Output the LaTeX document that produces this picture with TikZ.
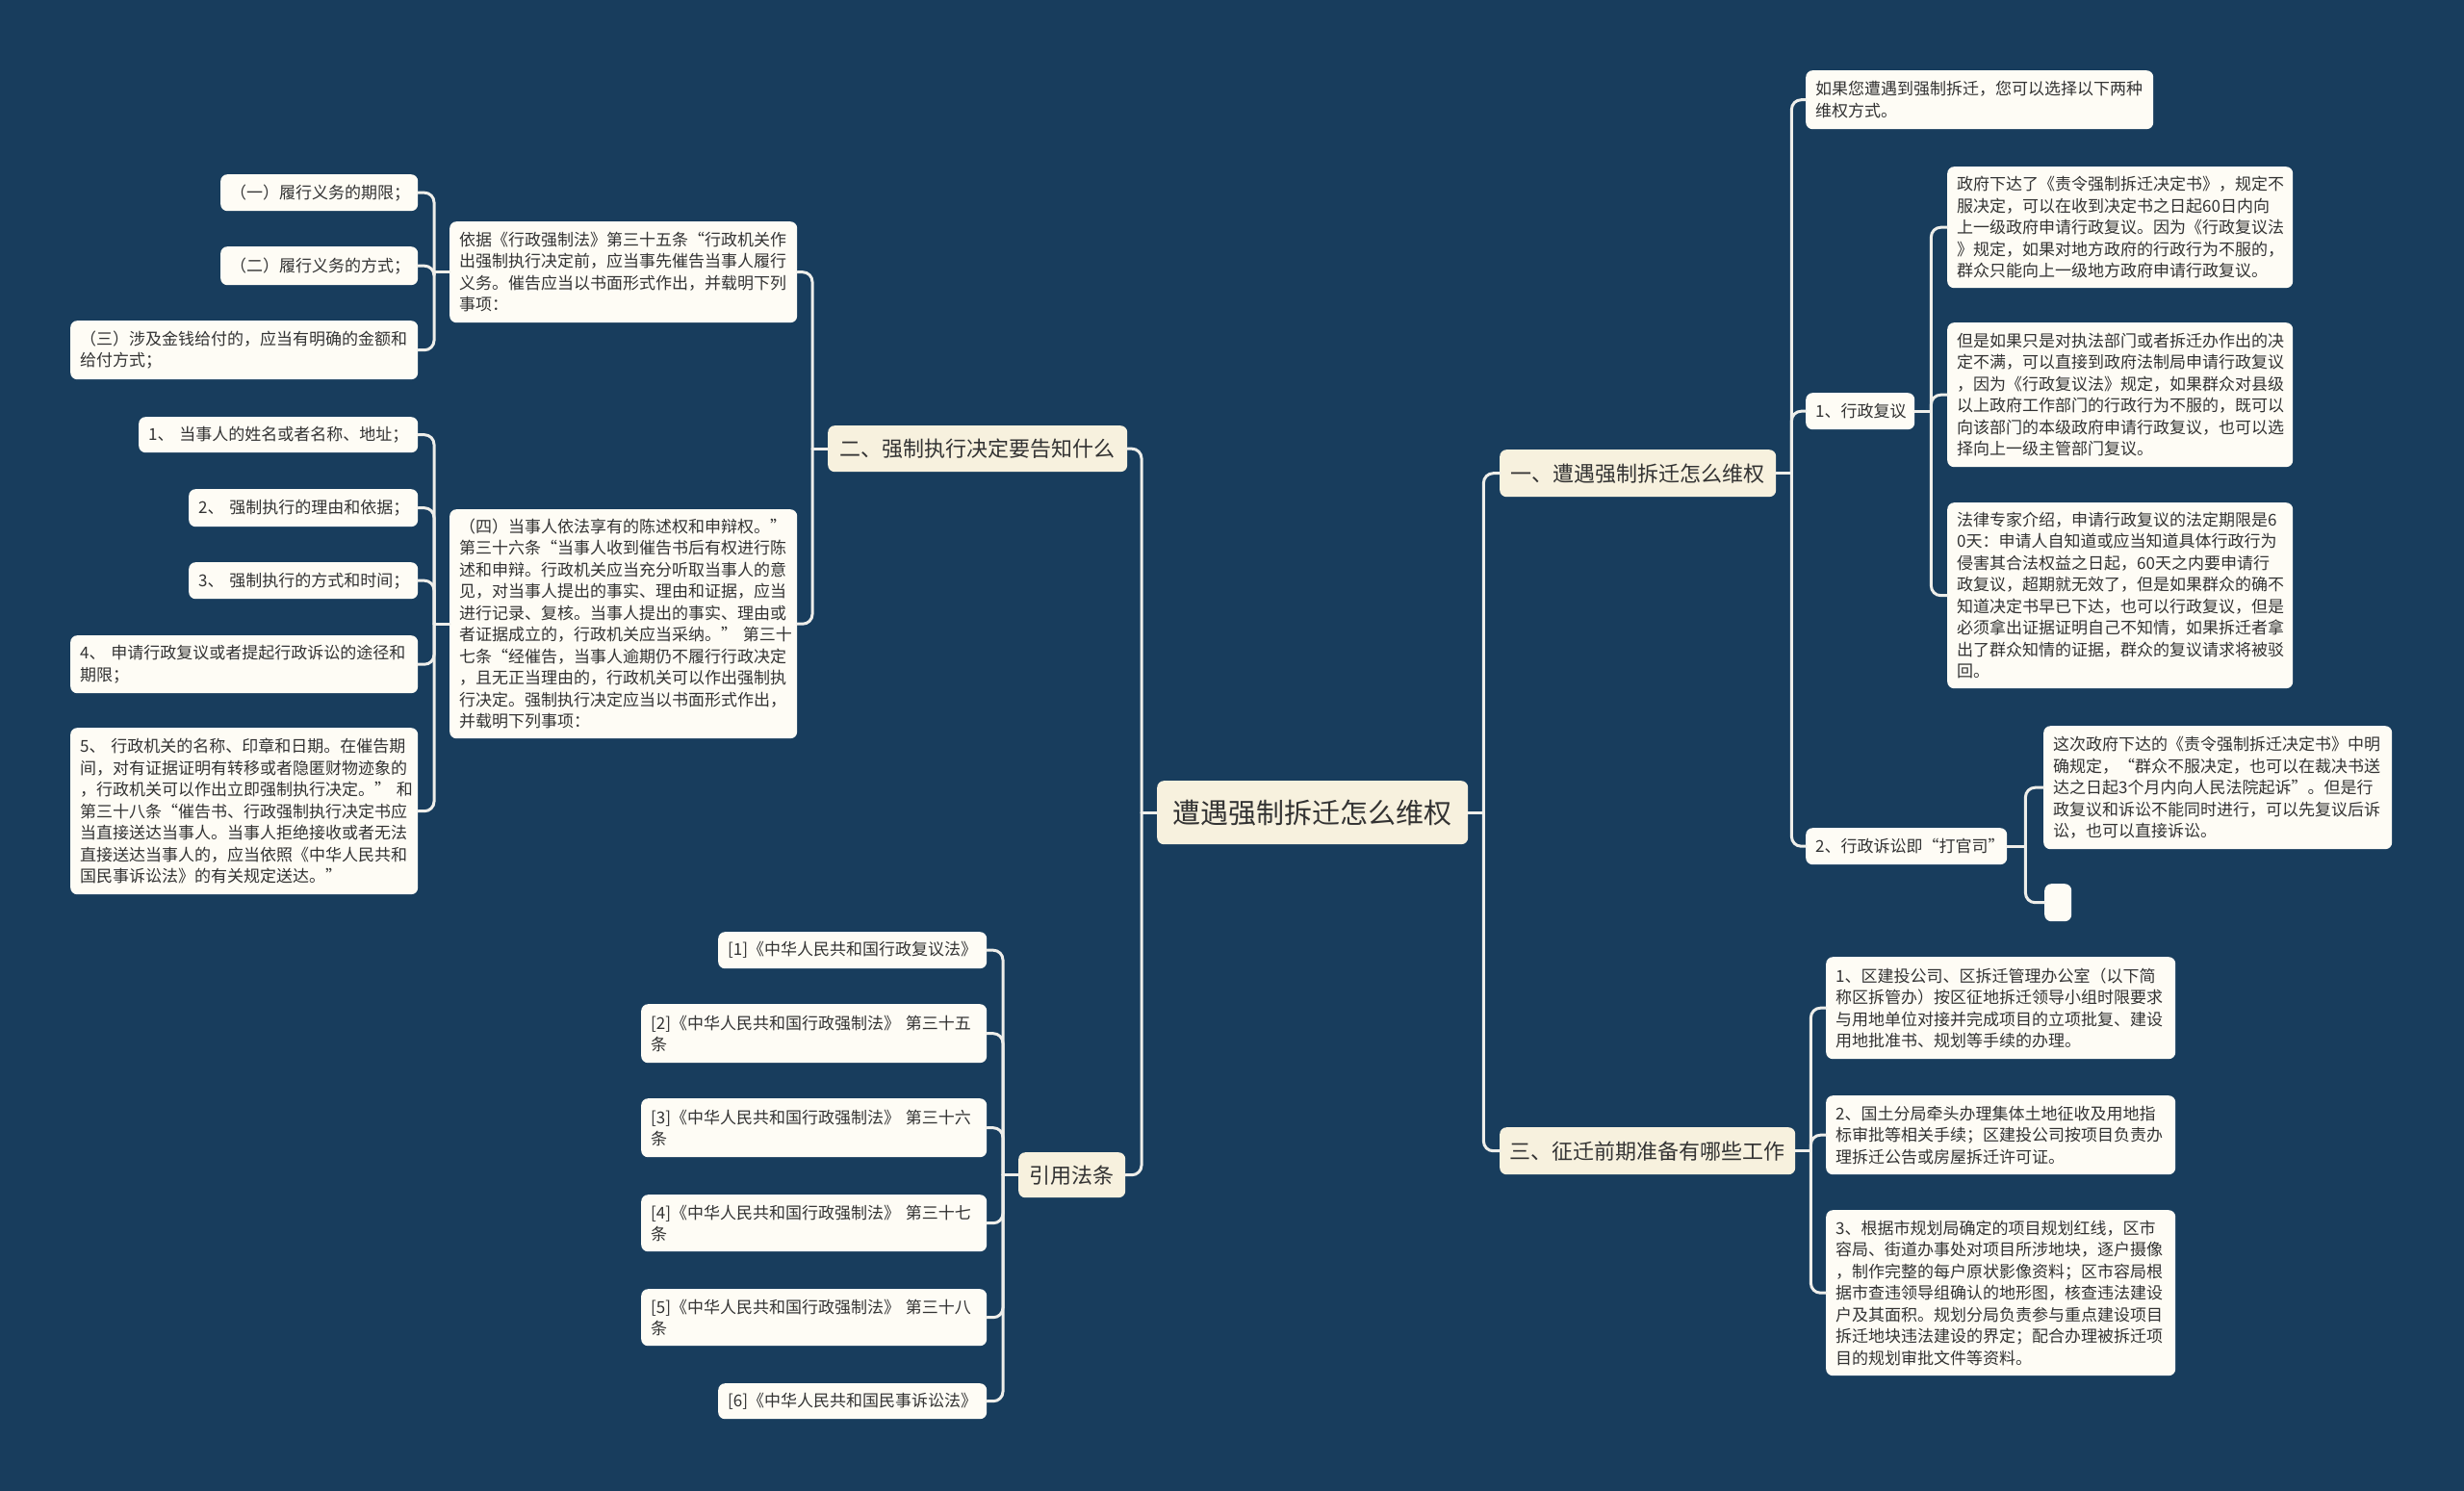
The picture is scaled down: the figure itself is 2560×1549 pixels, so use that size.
\documentclass[tikz,border=0pt]{standalone}
\usepackage{fontspec}
\setmainfont{Noto Sans CJK SC}
\definecolor{bgc}{HTML}{183D5D}
\definecolor{mainc}{HTML}{F7F1DE}
\definecolor{leafc}{HTML}{FEFCF5}
\definecolor{txt}{HTML}{333333}
\definecolor{linec}{HTML}{EEEEEA}
\tikzset{
  box/.style={draw=none, rounded corners=7pt, anchor=north west, inner xsep=10pt, inner ysep=0pt, text=txt},
  leaf/.style={box, fill=leafc, align=left, font=\fontsize{17}{22.5}\selectfont},
  mainbox/.style={box, fill=mainc, align=center, font=\fontsize{22}{26}\selectfont},
  conn/.style={draw=linec, line width=3pt, line cap=round},
  elbow/.style={conn, rounded corners=10pt},
}
\begin{document}
\begin{tikzpicture}[x=1pt,y=-1pt]
\fill[bgc] (0,0) rectangle (2560,1549);

% root and main branches
\node[box, fill=mainc, align=center, font=\fontsize{29}{34}\selectfont, minimum width=323pt, minimum height=66pt] (root) at (1202,811) {遭遇强制拆迁怎么维权};
\node[mainbox, minimum width=311pt, minimum height=48pt] (L1) at (860,442) {二、强制执行决定要告知什么};
\node[mainbox, minimum width=111pt, minimum height=47pt] (L2) at (1058,1197) {引用法条};
\node[mainbox, minimum width=287pt, minimum height=49pt] (R1) at (1558,467) {一、遭遇强制拆迁怎么维权};
\node[mainbox, minimum width=307pt, minimum height=49pt] (R3) at (1558,1171) {三、征迁前期准备有哪些工作};

% left branch L1
\node[leaf, text width=341pt, minimum height=105pt] (A) at (467,230) {依据《行政强制法》第三十五条“行政机关作\\出强制执行决定前，应当事先催告当事人履行\\义务。催告应当以书面形式作出，并载明下列\\事项：};
\node[leaf, text width=341pt, minimum height=238pt] (B) at (467,529) {（四）当事人依法享有的陈述权和申辩权。”\\第三十六条“当事人收到催告书后有权进行陈\\述和申辩。行政机关应当充分听取当事人的意\\见，对当事人提出的事实、理由和证据，应当\\进行记录、复核。当事人提出的事实、理由或\\者证据成立的，行政机关应当采纳。”~第三十\\七条“经催告，当事人逾期仍不履行行政决定\\，且无正当理由的，行政机关可以作出强制执\\行决定。强制执行决定应当以书面形式作出，\\并载明下列事项：};
\node[leaf, text width=185pt, minimum height=38pt] (a1) at (229,181) {（一）履行义务的期限；};
\node[leaf, text width=185pt, minimum height=40pt] (a2) at (229,256) {（二）履行义务的方式；};
\node[leaf, text width=341pt, minimum height=61pt] (a3) at (73,333) {（三）涉及金钱给付的，应当有明确的金额和\\给付方式；};
\node[leaf, text width=270pt, minimum height=37pt] (b1) at (144,433) {1、~当事人的姓名或者名称、地址；};
\node[leaf, text width=218pt, minimum height=39pt] (b2) at (196,508) {2、~强制执行的理由和依据；};
\node[leaf, text width=218pt, minimum height=38pt] (b3) at (196,584) {3、~强制执行的方式和时间；};
\node[leaf, text width=341pt, minimum height=60pt] (b4) at (73,660) {4、~申请行政复议或者提起行政诉讼的途径和\\期限；};
\node[leaf, text width=341pt, minimum height=173pt] (b5) at (73,756) {5、~行政机关的名称、印章和日期。在催告期\\间，对有证据证明有转移或者隐匿财物迹象的\\，行政机关可以作出立即强制执行决定。”~和\\第三十八条“催告书、行政强制执行决定书应\\当直接送达当事人。当事人拒绝接收或者无法\\直接送达当事人的，应当依照《中华人民共和\\国民事诉讼法》的有关规定送达。”};

% left branch L2
\node[leaf, text width=259pt, minimum height=38pt] (c1) at (746,968) {[1]《中华人民共和国行政复议法》};
\node[leaf, text width=339pt, minimum height=61pt] (c2) at (666,1043) {[2]《中华人民共和国行政强制法》~第三十五\\条};
\node[leaf, text width=339pt, minimum height=61pt] (c3) at (666,1141) {[3]《中华人民共和国行政强制法》~第三十六\\条};
\node[leaf, text width=339pt, minimum height=59pt] (c4) at (666,1241) {[4]《中华人民共和国行政强制法》~第三十七\\条};
\node[leaf, text width=339pt, minimum height=59pt] (c5) at (666,1339) {[5]《中华人民共和国行政强制法》~第三十八\\条};
\node[leaf, text width=259pt, minimum height=37pt] (c6) at (746,1437) {[6]《中华人民共和国民事诉讼法》};

% right branch R1
\node[leaf, text width=341pt, minimum height=61pt] (r1) at (1876,73) {如果您遭遇到强制拆迁，您可以选择以下两种\\维权方式。};
\node[leaf, text width=93pt, minimum height=38pt] (r2) at (1876,408) {1、行政复议};
\node[leaf, text width=189pt, minimum height=38pt] (r3) at (1876,860) {2、行政诉讼即“打官司”};
\node[leaf, text width=339pt, minimum height=126pt] (r2a) at (2023,173) {政府下达了《责令强制拆迁决定书》，规定不\\服决定，可以在收到决定书之日起60日内向\\上一级政府申请行政复议。因为《行政复议法\\》规定，如果对地方政府的行政行为不服的，\\群众只能向上一级地方政府申请行政复议。};
\node[leaf, text width=339pt, minimum height=150pt] (r2b) at (2023,335) {但是如果只是对执法部门或者拆迁办作出的决\\定不满，可以直接到政府法制局申请行政复议\\，因为《行政复议法》规定，如果群众对县级\\以上政府工作部门的行政行为不服的，既可以\\向该部门的本级政府申请行政复议，也可以选\\择向上一级主管部门复议。};
\node[leaf, text width=339pt, minimum height=193pt] (r2c) at (2023,522) {法律专家介绍，申请行政复议的法定期限是6\\0天：申请人自知道或应当知道具体行政行为\\侵害其合法权益之日起，60天之内要申请行\\政复议，超期就无效了，但是如果群众的确不\\知道决定书早已下达，也可以行政复议，但是\\必须拿出证据证明自己不知情，如果拆迁者拿\\出了群众知情的证据，群众的复议请求将被驳\\回。};
\node[leaf, text width=342pt, minimum height=128pt] (r3a) at (2123,754) {这次政府下达的《责令强制拆迁决定书》中明\\确规定，“群众不服决定，也可以在裁决书送\\达之日起3个月内向人民法院起诉”。但是行\\政复议和诉讼不能同时进行，可以先复议后诉\\讼，也可以直接诉讼。};
\node[leaf, text width=8pt, minimum height=39pt] (r3b) at (2124,918) {};

% right branch R3
\node[leaf, text width=343pt, minimum height=106pt] (s1) at (1897,994) {1、区建投公司、区拆迁管理办公室（以下简\\称区拆管办）按区征地拆迁领导小组时限要求\\与用地单位对接并完成项目的立项批复、建设\\用地批准书、规划等手续的办理。};
\node[leaf, text width=343pt, minimum height=82pt] (s2) at (1897,1138) {2、国土分局牵头办理集体土地征收及用地指\\标审批等相关手续；区建投公司按项目负责办\\理拆迁公告或房屋拆迁许可证。};
\node[leaf, text width=343pt, minimum height=172pt] (s3) at (1897,1257) {3、根据市规划局确定的项目规划红线，区市\\容局、街道办事处对项目所涉地块，逐户摄像\\，制作完整的每户原状影像资料；区市容局根\\据市查违领导组确认的地形图，核查违法建设\\户及其面积。规划分局负责参与重点建设项目\\拆迁地块违法建设的界定；配合办理被拆迁项\\目的规划审批文件等资料。};

% connectors: root
\draw[conn] (root.east) -- ++(16,0) coordinate (jR);
\draw[elbow] (jR) |- (R1.west);
\draw[elbow] (jR) |- (R3.west);
\draw[conn] (root.west) -- ++(-16,0) coordinate (jL);
\draw[elbow] (jL) |- (L1.east);
\draw[elbow] (jL) |- (L2.east);

% L1
\draw[conn] (L1.west) -- ++(-16,0) coordinate (jL1);
\draw[elbow] (jL1) |- (A.east);
\draw[elbow] (jL1) |- (B.east);
\draw[conn] (A.west) -- ++(-16,0) coordinate (jA);
\draw[elbow] (jA) |- (a1.east);
\draw[elbow] (jA) |- (a2.east);
\draw[elbow] (jA) |- (a3.east);
\draw[conn] (B.west) -- ++(-16,0) coordinate (jB);
\draw[elbow] (jB) |- (b1.east);
\draw[elbow] (jB) |- (b2.east);
\draw[elbow] (jB) |- (b3.east);
\draw[elbow] (jB) |- (b4.east);
\draw[elbow] (jB) |- (b5.east);

% L2
\draw[conn] (L2.west) -- ++(-16,0) coordinate (jL2);
\draw[elbow] (jL2) |- (c1.east);
\draw[elbow] (jL2) |- (c2.east);
\draw[elbow] (jL2) |- (c3.east);
\draw[elbow] (jL2) |- (c4.east);
\draw[elbow] (jL2) |- (c5.east);
\draw[elbow] (jL2) |- (c6.east);

% R1
\draw[conn] (R1.east) -- ++(16,0) coordinate (jR1);
\draw[elbow] (jR1) |- (r1.west);
\draw[elbow] (jR1) |- (r2.west);
\draw[elbow] (jR1) |- (r3.west);
\draw[conn] (r2.east) -- ++(17,0) coordinate (jr2);
\draw[elbow] (jr2) |- (r2a.west);
\draw[elbow] (jr2) |- (r2b.west);
\draw[elbow] (jr2) |- (r2c.west);
\draw[conn] (r3.east) -- ++(19,0) coordinate (jr3);
\draw[elbow] (jr3) |- (r3a.west);
\draw[elbow] (jr3) |- (r3b.west);

% R3
\draw[conn] (R3.east) -- ++(16,0) coordinate (jR3);
\draw[elbow] (jR3) |- (s1.west);
\draw[elbow] (jR3) |- (s2.west);
\draw[elbow] (jR3) |- (s3.west);
\end{tikzpicture}
\end{document}
